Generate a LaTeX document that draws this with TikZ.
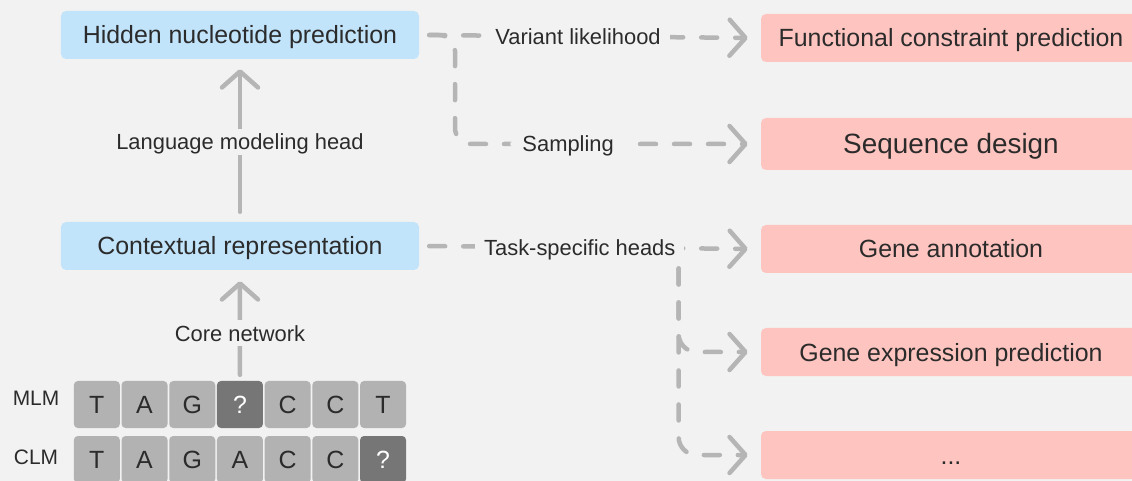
\documentclass[tikz,border=0pt]{standalone}
\usepackage{fontspec}
\setmainfont{Liberation Sans}
\usetikzlibrary{arrows.meta,calc}
\definecolor{bg}{HTML}{F2F2F2}
\definecolor{bluefill}{HTML}{C2E4FB}
\definecolor{redfill}{HTML}{FEC5C0}
\definecolor{linegray}{HTML}{B5B5B5}
\definecolor{txt}{HTML}{2B2B2B}
\definecolor{celllight}{HTML}{B2B2B2}
\definecolor{celldark}{HTML}{767676}
\tikzset{
  boxtext/.style={font=\fontsize{25}{30}\selectfont, text=txt, text height=18bp, text depth=0bp},
  bluebox/.style={boxtext, fill=bluefill, rounded corners=5bp, minimum width=358bp, minimum height=48bp, inner sep=0pt},
  redbox/.style={boxtext, fill=redfill, rounded corners=5bp, minimum width=380bp, minimum height=48bp, inner sep=0pt},
  lbl/.style={font=\fontsize{22}{26}\selectfont, text=txt, fill=bg, inner xsep=9bp, inner ysep=5bp, text height=15.6bp, text depth=0bp},
  tip/.style={-{Straight Barb[length=16bp,width=36bp,round]}},
  dashline/.style={draw=linegray, line width=4.5bp, line cap=round, line join=round, dash pattern=on 16bp off 18bp, tip},
  solidline/.style={draw=linegray, line width=4.5bp, line cap=round, line join=round, tip},
  cell/.style={fill=celllight, rounded corners=4bp, minimum width=46bp, minimum height=47bp, inner sep=0pt, font=\fontsize{25}{30}\selectfont, text=txt, text height=18bp, text depth=0bp},
  qcell/.style={cell, fill=celldark, text=white},
  rowlbl/.style={font=\fontsize{21}{25}\selectfont, text=txt, text height=15bp, text depth=0bp}
}
\begin{document}
\begin{tikzpicture}[x=1bp,y=-1bp]
\useasboundingbox (0,0) rectangle (1132,481);
\clip (0,0) rectangle (1132,481);
\fill[bg] (0,0) rectangle (1132,481);

% left column
\node[bluebox] (hid) at (240,35) {Hidden nucleotide prediction};
\node[bluebox] (ctx) at (240,246) {Contextual representation};

% right column
\node[redbox] (fcp) at (951,38) {Functional constraint prediction};
\node[redbox, minimum height=52bp, font=\fontsize{28}{33}\selectfont, text height=20bp] (seq) at (951,144) {Sequence design};
\node[redbox] (ga) at (951,249) {Gene annotation};
\node[redbox] (gep) at (951,352) {Gene expression prediction};
\node[redbox] (etc) at (951,455) {...};

% tokens
\node[rowlbl] (mlm) at (36,398) {MLM};
\node[rowlbl] (clm) at (36,457) {CLM};
\foreach \i/\a/\b in {1/T/T,2/A/A,3/G/G,5/C/C,6/C/C} {
  \node[cell] (m\i) at ({73+23.85+47.7*(\i-1)},404.5) {\a};
  \node[cell] (c\i) at ({73+23.85+47.7*(\i-1)},459.5) {\b};
}
\node[qcell] (m4) at ({73+23.85+47.7*3},404.5) {?};
\node[cell] (c4) at ({73+23.85+47.7*3},459.5) {A};
\node[cell] (m7) at ({73+23.85+47.7*6},404.5) {T};
\node[qcell] (c7) at ({73+23.85+47.7*6},459.5) {?};

% vertical arrows
\draw[solidline, shorten <=6bp, shorten >=11bp] (m4.north) -- node[lbl, pos=0.43] (cn) {Core network} (ctx.south);
\draw[solidline, shorten <=10bp, shorten >=10bp] (ctx.north) -- node[lbl, pos=0.49] (lmh) {Language modeling head} (hid.north |- hid.south);

% dashed connectors
\draw[dashline, shorten <=10bp, shorten >=13bp] (hid.east) -- node[lbl, pos=0.465] (vl) {Variant likelihood} (fcp.west);
\coordinate (sbend) at (455,100);
\draw[dashline, rounded corners=16bp, shorten <=10bp, shorten >=13bp] (hid.east) -- (hid.east -| sbend) -- (sbend |- seq.west) -- node[lbl, pos=0.37, inner xsep=12bp] (sm) {Sampling} (seq.west);
\draw[dashline, shorten <=10bp, shorten >=13bp] (ctx.east) -- node[lbl, pos=0.47] (tsh) {Task-specific heads} (ga.west);
\coordinate (br) at ($(tsh.south east)+(-8,6)$);
\draw[dashline, rounded corners=18bp, shorten >=13bp] (br) |- (gep.west);
\draw[dashline, rounded corners=18bp, shorten >=13bp] (br) |- (etc.west);
\end{tikzpicture}
\end{document}
